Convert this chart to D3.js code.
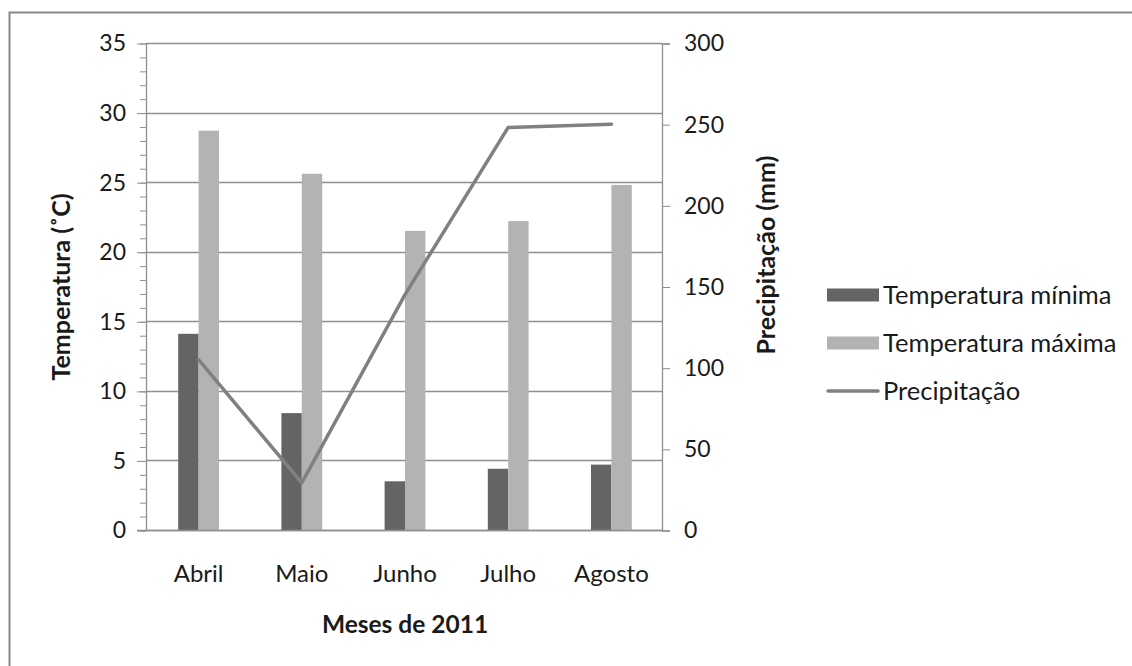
<!DOCTYPE html>
<html lang="pt">
<head>
    <meta charset="UTF-8">
    <title>Temperatura e precipitação - 2011</title>
    <script src="https://cdn.jsdelivr.net/npm/d3@7/dist/d3.min.js"></script>
    <style>
        body { margin: 0; background: #fff; }
        svg text { font-family: Lato, "Open Sans", sans-serif; fill: #1a1a1a; }
    </style>
</head>
<body>
    <div id="chart"></div>

    <script>
        // data
        const months = ["Abril", "Maio", "Junho", "Julho", "Agosto"];
        const tempMin = [14.1, 8.4, 3.5, 4.4, 4.7];
        const tempMax = [28.7, 25.6, 21.5, 22.2, 24.8];
        const precip = [105, 29, 145, 248, 250];
        const tempTicks = [0, 5, 10, 15, 20, 25, 30, 35];
        const precipTicks = [0, 50, 100, 150, 200, 250, 300];
        const seriesNames = ["Temperatura mínima", "Temperatura máxima", "Precipitação"];

        const width = 1132, height = 666;
        const plot = { left: 146, right: 662, top: 43, bottom: 530 };

        const colMin = "#646464", colMax = "#b3b3b3", colLine = "#808080", colGrid = "#8f8f8f";

        const svg = d3.select("#chart").append("svg")
            .attr("width", width)
            .attr("height", height);

        // outer frame
        svg.append("rect")
            .attr("x", 9.5).attr("y", 12.5)
            .attr("width", 1130).attr("height", 660)
            .attr("fill", "none")
            .attr("stroke", "#878787")
            .attr("stroke-width", 2);

        // scales
        const x0 = d3.scaleBand().domain(months).range([plot.left + 1, plot.right + 1]);
        const x1 = d3.scaleBand().domain(["min", "max"]).range([0, x0.bandwidth()]).paddingOuter(1.53);
        const yT = d3.scaleLinear().domain([0, 35]).range([plot.bottom, plot.top]);
        const yP = d3.scaleLinear().domain([0, 300]).range([plot.bottom, plot.top]);

        // gridlines
        svg.append("g")
            .selectAll("line")
            .data(tempTicks)
            .join("line")
            .attr("x1", plot.left).attr("x2", plot.right)
            .attr("y1", d => Math.round(yT(d)) + 0.5)
            .attr("y2", d => Math.round(yT(d)) + 0.5)
            .attr("stroke", colGrid)
            .attr("stroke-width", 1.3);

        // left axis with minor ticks
        const leftAxis = svg.append("g")
            .attr("transform", `translate(${plot.left}, 0.5)`)
            .call(d3.axisLeft(yT).tickValues(d3.range(0, 36, 1)).tickSize(6).tickFormat(""));
        leftAxis.call(g => g.select(".domain").remove());
        leftAxis.selectAll("line").attr("stroke", colGrid);
        svg.append("g")
            .attr("transform", `translate(${plot.left}, 0.5)`)
            .call(d3.axisLeft(yT).tickValues(tempTicks).tickSize(9).tickPadding(11))
            .call(g => g.select(".domain").remove())
            .call(g => g.selectAll("line").attr("stroke", colGrid))
            .call(g => g.selectAll("text").attr("font-size", 23).attr("font-family", "Lato").attr("fill", "#1a1a1a"));
        svg.append("line")
            .attr("x1", plot.left + 0.5).attr("x2", plot.left + 0.5)
            .attr("y1", plot.top).attr("y2", plot.bottom + 0.5)
            .attr("stroke", colGrid).attr("stroke-width", 1.3);

        // right axis
        svg.append("g")
            .attr("transform", `translate(${plot.right}, 0.5)`)
            .call(d3.axisRight(yP).tickValues(precipTicks).tickSize(8).tickPadding(14))
            .call(g => g.select(".domain").attr("stroke", colGrid).attr("stroke-width", 1.3))
            .call(g => g.selectAll("line").attr("stroke", colGrid))
            .call(g => g.selectAll("text").attr("font-size", 23).attr("font-family", "Lato").attr("fill", "#1a1a1a"));

        // bars
        const groups = svg.append("g")
            .selectAll("g")
            .data(months)
            .join("g")
            .attr("transform", d => `translate(${x0(d)}, 0)`);

        groups.append("rect")
            .attr("x", x1("min"))
            .attr("width", x1.bandwidth())
            .attr("y", (d, i) => yT(tempMin[i]))
            .attr("height", (d, i) => yT(0) - yT(tempMin[i]))
            .attr("fill", colMin);

        groups.append("rect")
            .attr("x", x1("max"))
            .attr("width", x1.bandwidth())
            .attr("y", (d, i) => yT(tempMax[i]))
            .attr("height", (d, i) => yT(0) - yT(tempMax[i]))
            .attr("fill", colMax);

        // bottom axis line
        svg.append("line")
            .attr("x1", plot.left - 9).attr("x2", plot.right)
            .attr("y1", plot.bottom + 0.5).attr("y2", plot.bottom + 0.5)
            .attr("stroke", colGrid).attr("stroke-width", 1.3);

        // precipitation line
        const line = d3.line()
            .x((d, i) => x0(months[i]) + x0.bandwidth() / 2)
            .y(d => yP(d));

        svg.append("path")
            .datum(precip)
            .attr("fill", "none")
            .attr("stroke", colLine)
            .attr("stroke-width", 3.5)
            .attr("stroke-linejoin", "round")
            .attr("stroke-linecap", "round")
            .attr("d", line);

        // category labels
        svg.append("g")
            .selectAll("text")
            .data(months)
            .join("text")
            .attr("x", d => x0(d) + x0.bandwidth() / 2)
            .attr("y", 582)
            .attr("text-anchor", "middle")
            .attr("font-size", 24)
            .text(d => d);

        // axis titles
        svg.append("text")
            .attr("x", 405).attr("y", 633)
            .attr("text-anchor", "middle")
            .attr("font-size", 24.5)
            .attr("font-weight", "bold")
            .text("Meses de 2011");

        svg.append("text")
            .attr("transform", "translate(70, 287) rotate(-90)")
            .attr("text-anchor", "middle")
            .attr("font-size", 25)
            .attr("font-weight", "bold")
            .text("Temperatura (˚C)");

        svg.append("text")
            .attr("transform", "translate(775, 255) rotate(-90)")
            .attr("text-anchor", "middle")
            .attr("font-size", 25)
            .attr("font-weight", "bold")
            .text("Precipitação (mm)");

        // legend
        const legend = svg.append("g").attr("transform", "translate(827, 295)");
        const rows = legend.selectAll("g")
            .data(seriesNames)
            .join("g")
            .attr("transform", (d, i) => `translate(0, ${i * 48})`);

        rows.filter((d, i) => i < 2).append("rect")
            .attr("x", 0).attr("y", -6.5)
            .attr("width", 52).attr("height", 13)
            .attr("fill", (d, i) => i === 0 ? colMin : colMax);

        rows.filter((d, i) => i === 2).append("line")
            .attr("x1", 1).attr("x2", 51)
            .attr("stroke", colLine)
            .attr("stroke-width", 3.5)
            .attr("stroke-linecap", "round");

        rows.append("text")
            .attr("x", 56)
            .attr("dy", "0.35em")
            .attr("font-size", 25.5)
            .text(d => d);
    </script>
</body>
</html>
